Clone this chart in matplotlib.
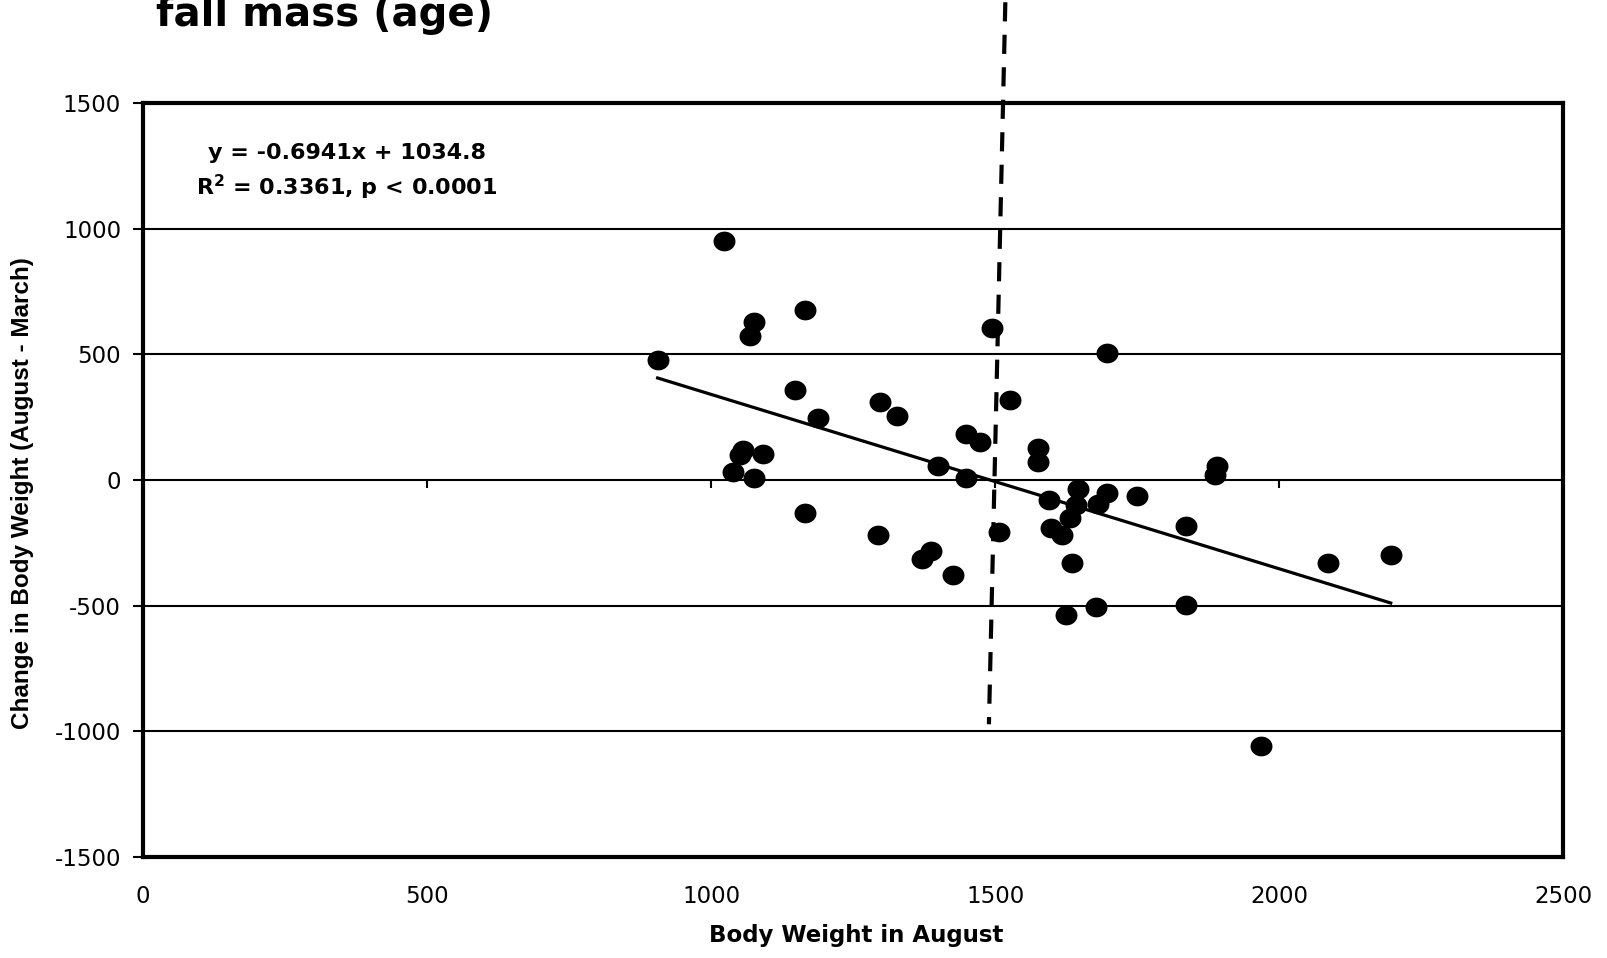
import numpy as np
import matplotlib.pyplot as plt
from matplotlib.path import Path

plt.rcParams['font.family'] = 'DejaVu Sans'
plt.rcParams['axes.unicode_minus'] = False

# body weight in August vs change in body weight (August - March)
weight_aug = [906, 1023, 1076, 1069, 1166, 1147, 1189, 1057, 1051, 1092,
              1038, 1076, 1166, 1297, 1327, 1293, 1399, 1448, 1473, 1448,
              1494, 1526, 1387, 1372, 1425, 1507, 1575, 1575, 1595, 1598,
              1617, 1646, 1643, 1632, 1636, 1624, 1677, 1681, 1696, 1696,
              1749, 1835, 1835, 1891, 1887, 1967, 2086, 2196]
weight_change = [477, 952, 630, 573, 676, 358, 245, 119, 99, 103,
                 33, 9, -132, 312, 255, -219, 57, 183, 150, 9,
                 604, 318, -282, -316, -378, -206, 126, 73, -80, -190,
                 -219, -37, -99, -150, -331, -537, -506, -95, -53, 506,
                 -64, -182, -498, 56, 20, -1058, -331, -298]

# linear fit
slope = -0.6941
intercept = 1034.8
r_squared = 0.3361

# hand drawn cut-off line around 1500
cutoff_x = [1518, 1489]
cutoff_y = [1913, -972]

x_ticks = [0, 500, 1000, 1500, 2000, 2500]
y_ticks = [-1500, -1000, -500, 0, 500, 1000, 1500]


fig = plt.figure(figsize=(16.08, 9.58), dpi=100)
ax = fig.add_axes([0.08874, 0.10543, 0.88358, 0.78706])

# slightly flattened dots
t = np.linspace(0, 2 * np.pi, 61)
dot = Path(np.column_stack([np.cos(t), 0.9 * np.sin(t)]), closed=True)

ax.plot(weight_aug, weight_change, ls='none', marker=dot, ms=15.8,
        mfc='k', mec='k', mew=0, zorder=4)

fit_x = np.array([min(weight_aug), max(weight_aug)])
ax.plot(fit_x, slope * fit_x + intercept, color='k', lw=2.3, zorder=3)

ax.plot(cutoff_x, cutoff_y, color='k', lw=3, ls=(21.2 / 3, (4.6, 3.2)),
        clip_on=False, zorder=5)

ax.set_xlim(0, 2500)
ax.set_ylim(-1500, 1500)
ax.set_xticks(x_ticks)
ax.set_yticks(y_ticks)

ax.yaxis.grid(True, color='k', lw=1.5)
ax.set_axisbelow(True)

for side in ax.spines:
    ax.spines[side].set_linewidth(3)
    ax.spines[side].set_color('k')

ax.tick_params(axis='x', length=0, pad=20.5, labelsize=16.5)
ax.tick_params(axis='y', direction='out', length=7, width=1.5, pad=8.5,
               labelsize=16.5)

# x tick marks sit on the zero line
secax = ax.secondary_xaxis(0.5)
secax.set_alignment('bottom')
secax.set_xticks(x_ticks)
secax.tick_params(axis='x', direction='out', length=6, width=1.5,
                  labelbottom=False, labeltop=False)
for side in secax.spines:
    secax.spines[side].set_visible(False)

ax.set_xlabel('Body Weight in August', fontsize=16.5, fontweight='bold',
              va='baseline')
ax.xaxis.set_label_coords(0.502, -0.1123)
ax.set_ylabel('Change in Body Weight (August - March)', family='Liberation Sans',
              fontsize=17.5, fontweight='bold', va='center')
ax.yaxis.set_label_coords(-0.0845, 0.4828)

ax.text(0.1438, 0.9253, f'y = {slope}x + {intercept}', transform=ax.transAxes,
        ha='center', va='baseline', fontsize=16, fontweight='bold')
ax.text(0.1438, 0.878, r'R$^{\mathbf{2}}$' + f' = {r_squared}, p < 0.0001',
        transform=ax.transAxes, ha='center', va='baseline', fontsize=16,
        fontweight='bold')

fig.text(0.097, 0.9733, 'fall mass (age)', fontsize=29, fontweight='bold',
         ha='left', va='baseline')

fig.savefig('out.png', dpi=100)
plt.close()
